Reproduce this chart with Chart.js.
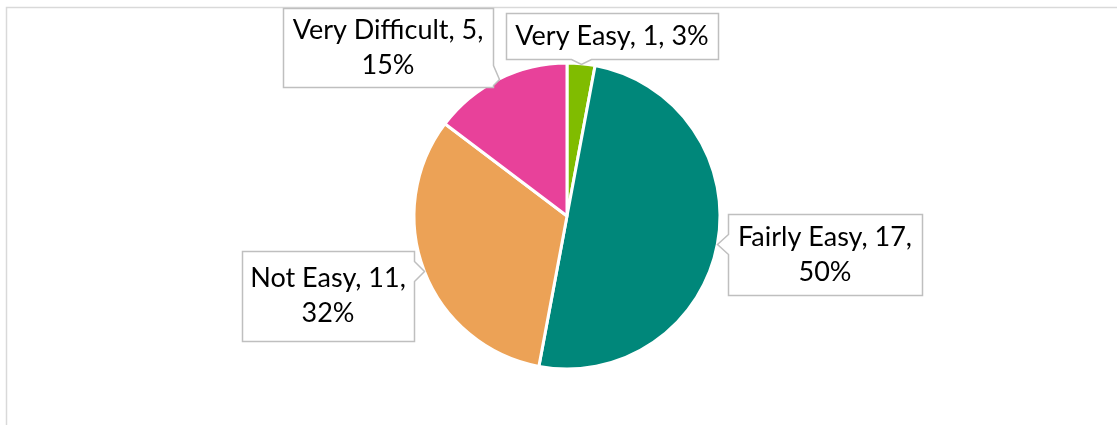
<!DOCTYPE html>
<html>
<head>
<meta charset="utf-8">
<script src="https://cdn.jsdelivr.net/npm/chart.js@4"></script>
<style>
  html, body { margin: 0; padding: 0; background: #fff; }
  #wrap { width: 1117px; height: 425px; position: relative; }
</style>
</head>
<body>
<div id="wrap"><canvas id="pieCanvas" width="1117" height="425"></canvas></div>
<script>
// data
let categories = ['Very Easy', 'Fairly Easy', 'Not Easy', 'Very Difficult'];
let counts = [1, 17, 11, 5];
let colors = ['#80bc00', '#00877a', '#eca256', '#e8419a'];

// callout boxes, relative to pie centre: [left, top, width, height]
let calloutBoxes = [
  [-61, -203, 212, 46],
  [161, -2, 194, 81],
  [-325, 35, 172, 90],
  [-284, -208, 210, 79]
];
// line breaks of each label
let calloutLines = [
  (c, v, p) => [c + ', ' + v + ', ' + p + '%'],
  (c, v, p) => [c + ', ' + v + ',', p + '%'],
  (c, v, p) => [c + ', ' + v + ',', p + '%'],
  (c, v, p) => [c + ', ' + v + ',', p + '%']
];

let total = counts.reduce((a, b) => a + b, 0);

// frame around the chart area
const framePlugin = {
  id: 'frame',
  beforeDraw(chart) {
    let ctx = chart.ctx;
    ctx.save();
    ctx.strokeStyle = '#d9d9d9';
    ctx.lineWidth = 1.5;
    ctx.beginPath();
    ctx.moveTo(6.5, 425);
    ctx.lineTo(6.5, 7.5);
    ctx.lineTo(1117, 7.5);
    ctx.stroke();
    ctx.restore();
  }
};

// Excel style callout labels
const calloutPlugin = {
  id: 'callouts',
  afterDraw(chart) {
    let ctx = chart.ctx;
    let meta = chart.getDatasetMeta(0);
    meta.data.forEach((arc, i) => {
      let cx = arc.x, cy = arc.y;
      let mid = (arc.startAngle + arc.endAngle) / 2;
      let tx = cx + Math.cos(mid) * arc.outerRadius;
      let ty = cy + Math.sin(mid) * arc.outerRadius;
      let b = calloutBoxes[i];
      let x0 = cx + b[0], y0 = cy + b[1], x1 = x0 + b[2], y1 = y0 + b[3];

      // which side the pointer comes out of
      let side;
      if (tx > x1) side = 'right';
      else if (tx < x0) side = 'left';
      else if (ty > y1) side = 'bottom';
      else side = 'top';

      let hw = 10;
      let pts = [];
      if (side === 'right' || side === 'left') {
        let py = Math.min(Math.max(ty, y0 + hw + 2), y1 - hw - 2);
        pts = side === 'right'
          ? [[x0, y0], [x1, y0], [x1, py - hw], [tx, ty], [x1, py + hw], [x1, y1], [x0, y1]]
          : [[x0, y0], [x1, y0], [x1, y1], [x0, y1], [x0, py + hw], [tx, ty], [x0, py - hw]];
      } else {
        let px = Math.min(Math.max(tx, x0 + hw + 2), x1 - hw - 2);
        pts = side === 'bottom'
          ? [[x0, y0], [x1, y0], [x1, y1], [px + hw, y1], [tx, ty], [px - hw, y1], [x0, y1]]
          : [[x0, y0], [px - hw, y0], [tx, ty], [px + hw, y0], [x1, y0], [x1, y1], [x0, y1]];
      }

      ctx.save();
      ctx.beginPath();
      pts.forEach((p, k) => {
        let px = Math.round(p[0]) + 0.5, py = Math.round(p[1]) + 0.5;
        if (k === 0) ctx.moveTo(px, py); else ctx.lineTo(px, py);
      });
      ctx.closePath();
      ctx.fillStyle = '#ffffff';
      ctx.fill();
      ctx.strokeStyle = '#bfbfbf';
      ctx.lineWidth = 1.5;
      ctx.stroke();

      let pct = Math.round(counts[i] / total * 100);
      let lines = calloutLines[i](categories[i], counts[i], pct);
      let lh = 35;
      ctx.fillStyle = '#000000';
      ctx.font = '27px Lato, "Open Sans", sans-serif';
      ctx.textAlign = 'center';
      ctx.textBaseline = 'middle';
      let midX = (x0 + x1) / 2;
      let startY = (y0 + y1) / 2 - (lines.length - 1) * lh / 2;
      lines.forEach((t, k) => ctx.fillText(t, midX, startY + k * lh));
      ctx.restore();
    });
  }
};

const pieChart = new Chart(document.getElementById('pieCanvas'), {
  type: 'pie',
  data: {
    labels: categories,
    datasets: [{
      data: counts,
      backgroundColor: colors,
      borderColor: '#ffffff',
      borderWidth: 3,
      hoverOffset: 0
    }]
  },
  options: {
    responsive: false,
    animation: false,
    radius: 153,
    layout: { padding: { left: 17, right: 0, top: 7, bottom: 0 } },
    plugins: {
      legend: { display: false },
      tooltip: { enabled: false }
    }
  },
  plugins: [framePlugin, calloutPlugin]
});
</script>
</body>
</html>
